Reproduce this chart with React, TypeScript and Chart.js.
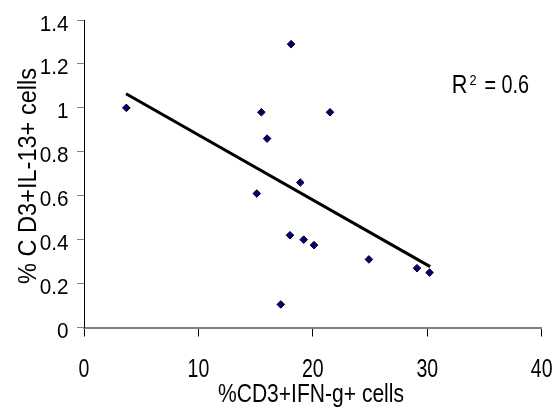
import React, { useEffect, useRef } from "react";
import { Chart, registerables } from "chart.js";

Chart.register(...registerables);

// Data
const xValues = [3.7, 15.5, 16.0, 15.1, 18.1, 21.5, 18.9, 18.0, 19.2, 20.1, 24.9, 29.1, 30.2, 17.2];
const yValues = [1.0, 0.98, 0.86, 0.61, 1.29, 0.98, 0.66, 0.42, 0.4, 0.375, 0.31, 0.27, 0.25, 0.105];
const trendX = [3.67, 30.25];
const trendY = [1.064, 0.277];
const xTickLabels = ["0", "10", "20", "30", "40"];
const yTickLabels = ["0", "0.2", "0.4", "0.6", "0.8", "1", "1.2", "1.4"];
const xTitle = "%CD3+IFN-g+ cells";
const yTitle = "% C D3+IL-13+ cells";
const rLabelMain = "R";
const rLabelSup = "2";
const rLabelRest = "= 0.6";

const FONT = '"Liberation Sans", Arial, sans-serif';

function drawText(
  ctx: CanvasRenderingContext2D,
  text: string,
  x: number,
  y: number,
  size: number,
  opts: { sx?: number; width?: number; align?: CanvasTextAlign; rotate?: number }
) {
  ctx.save();
  ctx.font = `${size}px ${FONT}`;
  let sx = opts.sx ?? 1;
  if (opts.width) {
    const w = ctx.measureText(text).width;
    sx = opts.width / w;
  }
  ctx.translate(x, y);
  if (opts.rotate) ctx.rotate(opts.rotate);
  ctx.scale(sx, 1);
  ctx.textAlign = opts.align ?? "left";
  ctx.textBaseline = "alphabetic";
  ctx.fillStyle = "#000";
  ctx.fillText(text, 0, 0);
  ctx.restore();
}

const textPlugin = {
  id: "stretchedText",
  afterDraw(chart: any) {
    const ctx: CanvasRenderingContext2D = chart.ctx;
    const xs = chart.scales.x;
    const ys = chart.scales.y;
    xs.ticks.forEach((t: any, i: number) => {
      const px = xs.getPixelForValue(t.value);
      drawText(ctx, xTickLabels[i] ?? String(t.value), px, 377.3, 25, { sx: 0.78, align: "center" });
    });
    ys.ticks.forEach((t: any, i: number) => {
      const py = ys.getPixelForValue(t.value);
      drawText(ctx, yTickLabels[i] ?? String(t.value), 68.5, py + 10.5, 22.5, { sx: 0.92, align: "right" });
    });
    // axis titles
    drawText(ctx, xTitle, 311, 401.7, 25.6, { width: 186, align: "center" });
    drawText(ctx, yTitle, 35.7, 176, 26.5, { width: 216, align: "center", rotate: -Math.PI / 2 });
    // R^2 label
    drawText(ctx, rLabelMain, 451.7, 93.3, 25.6, { sx: 0.85, align: "left" });
    drawText(ctx, rLabelSup, 469.5, 85, 15, { sx: 0.85, align: "left" });
    drawText(ctx, rLabelRest, 484.5, 93.3, 25.6, { width: 44.5, align: "left" });
  },
};

export default function App() {
  const canvasRef = useRef<HTMLCanvasElement | null>(null);

  useEffect(() => {
    if (!canvasRef.current) return;
    const points = xValues.map((x, i) => ({ x, y: yValues[i] }));
    const trend = trendX.map((x, i) => ({ x, y: trendY[i] }));
    const chart = new Chart(canvasRef.current, {
      type: "scatter",
      data: {
        datasets: [
          {
            label: "data",
            data: points,
            pointStyle: "rectRot",
            pointRadius: 3.8,
            backgroundColor: "#000080",
            borderColor: "#000000",
            borderWidth: 1,
            order: 0,
          },
          {
            label: "trend",
            data: trend,
            showLine: true,
            pointRadius: 0,
            borderColor: "#000000",
            borderWidth: 3,
            fill: false,
            order: 1,
          } as any,
        ],
      },
      options: {
        responsive: false,
        animation: false,
        devicePixelRatio: 1,
        layout: { padding: { top: 20, right: 12.3, left: 0, bottom: 0 } },
        plugins: {
          legend: { display: false },
          tooltip: { enabled: false },
        },
        scales: {
          x: {
            type: "linear",
            min: 0,
            max: 40,
            ticks: { stepSize: 10, display: false },
            grid: { drawOnChartArea: false, drawTicks: true, tickLength: 9, color: "#000000", lineWidth: 1 },
            border: { color: "#808080", width: 2 },
            afterFit: (scale: any) => {
              scale.height = 80.5;
            },
          },
          y: {
            type: "linear",
            min: 0,
            max: 1.4,
            ticks: { stepSize: 0.2, display: false },
            grid: { drawOnChartArea: false, drawTicks: true, tickLength: 7, color: "#808080", lineWidth: 1 },
            border: { color: "#000000", width: 1 },
            afterFit: (scale: any) => {
              scale.width = 84;
            },
          },
        },
      },
      plugins: [textPlugin],
    });
    return () => chart.destroy();
  }, []);

  return (
    <div style={{ position: "fixed", left: 0, top: 0, width: 554, height: 408, background: "#fff" }}>
      <canvas ref={canvasRef} width={554} height={408} style={{ display: "block" }} />
    </div>
  );
}
